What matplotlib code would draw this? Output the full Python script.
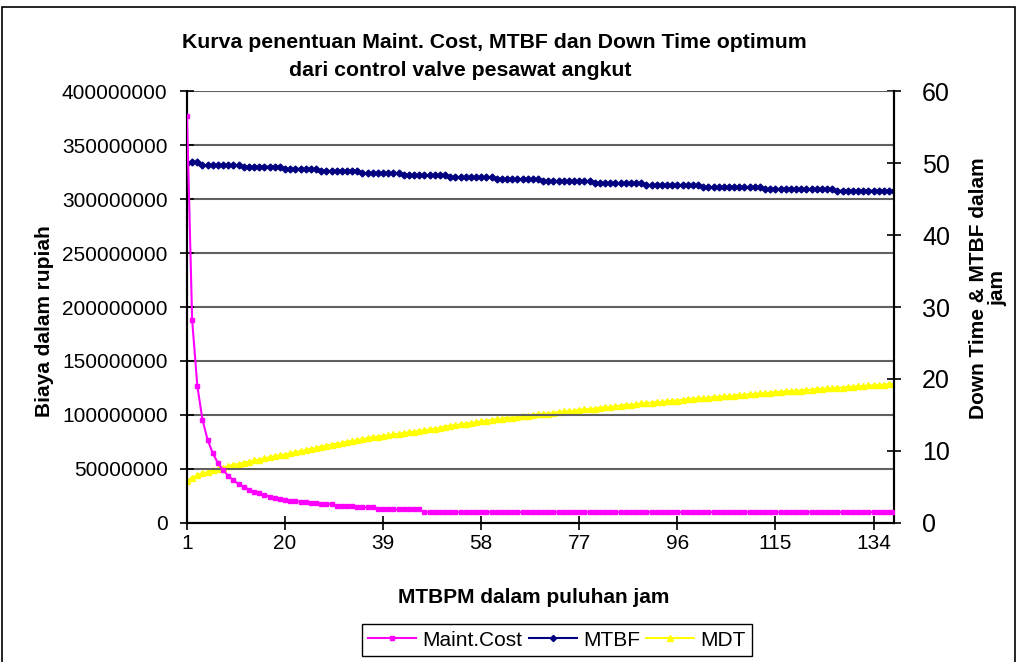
import numpy as np
import matplotlib
matplotlib.use("Agg")
import matplotlib.pyplot as plt
from matplotlib.patches import Rectangle

plt.rcParams['font.family'] = ['Liberation Sans', 'DejaVu Sans']

# MTBPM (puluhan jam) — kategori 1..138
mtbpm = np.arange(1, 139)

# Maint. Cost (rupiah)
maint_cost = [
    377e6, 188e6, 127e6, 95.5e6, 77e6, 64.5e6, 55.5e6, 49e6, 43.5e6, 39.5e6,
    36e6, 33.5e6, 31e6, 29e6, 27.5e6, 26e6, 24.5e6, 23.5e6, 22.5e6, 21.5e6,
    20.5e6, 20.5e6, 19.5e6, 19.5e6, 18.5e6, 18.5e6, 17.5e6, 17.5e6, 17.5e6, 16e6,
    16e6, 16e6, 16e6, 14.5e6, 14.5e6, 14.5e6, 14.5e6, 12.5e6, 12.5e6, 12.5e6,
    12.5e6, 12.5e6, 12.5e6, 12.5e6, 12.5e6, 12.5e6,
] + [10e6] * 92

# MTBF (jam): nilai bertingkat dan panjang tiap tingkat
mtbf_levels = [50.0, 50.1, 49.7, 49.5, 49.2, 48.9, 48.6, 48.3, 48.0, 47.75,
               47.5, 47.2, 46.95, 46.65, 46.4, 46.15]
mtbf_counts = [1, 2, 8, 8, 7, 8, 8, 9, 9, 9, 10, 10, 11, 12, 14, 12]
mtbf = np.repeat(mtbf_levels, mtbf_counts)

# MDT (jam)
mdt = [
    5.9, 6.3, 6.6, 6.9, 7.1, 7.3, 7.5, 7.7, 7.9, 8.1,
    8.2, 8.4, 8.5, 8.7, 8.8, 9.0, 9.1, 9.3, 9.4, 9.5,
    9.7, 9.8, 10.0, 10.1, 10.3, 10.4, 10.6, 10.7, 10.9, 11.0,
    11.1, 11.3, 11.4, 11.5, 11.6, 11.8, 11.9, 12.0, 12.1, 12.2,
    12.3, 12.4, 12.5, 12.6, 12.7, 12.8, 12.9, 13.0, 13.1, 13.2,
    13.4, 13.5, 13.6, 13.7, 13.8, 13.9, 14.0, 14.1, 14.2, 14.3,
    14.4, 14.5, 14.6, 14.6, 14.7, 14.8, 14.9, 15.0, 15.1, 15.2,
    15.2, 15.3, 15.4, 15.5, 15.5, 15.6, 15.7, 15.8, 15.8, 15.9,
    16.0, 16.1, 16.1, 16.2, 16.3, 16.4, 16.4, 16.5, 16.6, 16.7,
    16.7, 16.8, 16.8, 16.9, 17.0, 17.0, 17.1, 17.2, 17.2, 17.3,
    17.3, 17.4, 17.5, 17.5, 17.6, 17.6, 17.7, 17.8, 17.8, 17.9,
    17.9, 18.0, 18.0, 18.1, 18.2, 18.2, 18.3, 18.3, 18.4, 18.4,
    18.5, 18.5, 18.6, 18.6, 18.7, 18.7, 18.8, 18.8, 18.9, 18.9,
    19.0, 19.0, 19.1, 19.1, 19.2, 19.2, 19.3, 19.3,
]

xticks = list(range(1, 138, 19))
left_ticks = np.arange(0, 400000001, 50000000)
right_ticks = np.arange(0, 61, 10)

fig = plt.figure(figsize=(10.19, 6.62), dpi=100)
ax = fig.add_axes([0.1835, 0.21, 0.694, 0.6525])
ax2 = ax.twinx()

# garis grid horisontal
for v in left_ticks:
    ax.axhline(v, color='#606060', lw=1.5, zorder=0)

l_cost, = ax.plot(mtbpm, maint_cost, color='#FF00FF', lw=1.5, marker='s', ms=3,
                  label='Maint.Cost', zorder=3)
l_mtbf, = ax2.plot(mtbpm, mtbf, color='#000080', lw=1.5, marker='D', ms=3.5,
                   label='MTBF')
l_mdt, = ax2.plot(mtbpm, mdt, color='#FFFF00', lw=1.5, marker='^', ms=4.5,
                  label='MDT')
ax.set_zorder(ax2.get_zorder() + 1)
ax.patch.set_visible(False)

ax.set_xlim(1, 138)
ax.set_ylim(0, 400000000)
ax2.set_ylim(0, 60)
ax.set_xticks(xticks)
ax.set_xticklabels([str(t) for t in xticks])
ax.set_yticks(left_ticks)
ax.set_yticklabels([str(int(v)) for v in left_ticks])
ax2.set_yticks(right_ticks)
ax2.set_yticklabels([str(v) for v in right_ticks])

ax.tick_params(axis='x', direction='inout', length=10, width=1.2, labelsize=15, pad=3)
ax.tick_params(axis='y', direction='inout', length=10, width=1.2, labelsize=15, pad=9)
ax2.tick_params(axis='y', direction='inout', length=10, width=1.2, labelsize=18, pad=15)

for a in (ax, ax2):
    a.spines['top'].set_visible(False)
    for s in ('left', 'right', 'bottom'):
        a.spines[s].set_linewidth(1.5)
        a.spines[s].set_color('black')

# judul dan label
fig.text(0.485, 0.936, 'Kurva penentuan Maint. Cost, MTBF dan Down Time optimum',
         ha='center', va='center', fontsize=15.3, fontweight='bold')
fig.text(0.452, 0.894, 'dari control valve pesawat angkut',
         ha='center', va='center', fontsize=15.3, fontweight='bold')
fig.text(0.044, 0.515, 'Biaya dalam rupiah', rotation=90, ha='center', va='center',
         fontsize=15, fontweight='bold')
fig.text(0.97, 0.565, 'Down Time & MTBF dalam\njam', rotation=90, ha='center',
         va='center', fontsize=15, fontweight='bold', linespacing=1.0,
         multialignment='center')
fig.text(0.524, 0.098, 'MTBPM dalam puluhan jam', ha='center', va='center',
         fontsize=15, fontweight='bold')

leg = fig.legend(handles=[l_cost, l_mtbf, l_mdt], loc='center',
                 bbox_to_anchor=(0.5466, 0.033), ncol=3, fontsize=15,
                 frameon=True, fancybox=False, framealpha=1, edgecolor='black',
                 handlelength=2.3, handletextpad=0.3, columnspacing=0.3,
                 borderpad=0.3, markerscale=0.9)
leg.get_frame().set_linewidth(1.0)

# bingkai gambar
fig.patches.append(Rectangle((0.002, -0.05), 0.994, 1.039, transform=fig.transFigure,
                             fill=False, edgecolor='black', lw=1.2))

fig.savefig('out.png', dpi=100)
